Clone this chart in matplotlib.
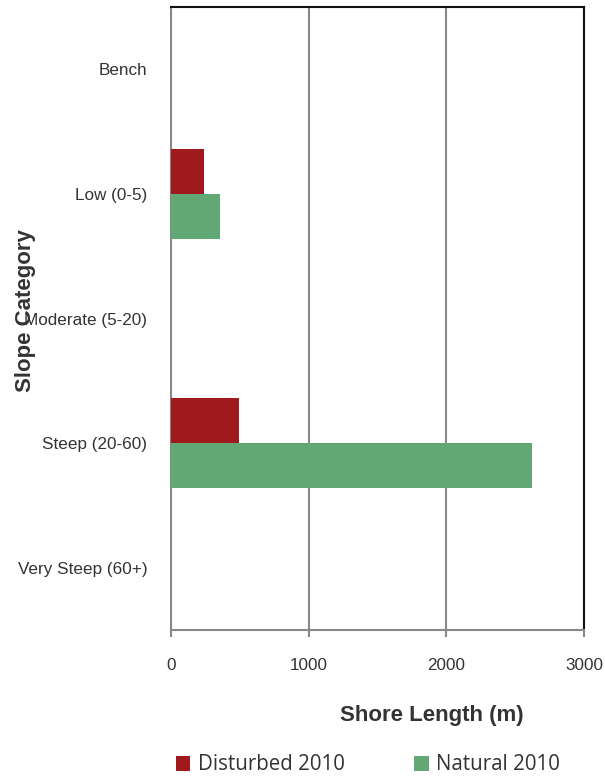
import matplotlib
matplotlib.use("Agg")
import matplotlib.pyplot as plt
import numpy as np
from matplotlib.patches import Patch

categories = ["Bench", "Low (0-5)", "Moderate (5-20)", "Steep (20-60)", "Very Steep (60+)"]
disturbed_2010 = [0, 237, 0, 493, 0]
natural_2010 = [0, 358, 0, 2623, 0]
x_ticks = [0, 1000, 2000, 3000]

red = "#A0191C"
green = "#62A874"

fig = plt.figure(figsize=(6.05, 7.76), dpi=100)
ax = fig.add_axes([171/605, 1-630/776, 413/605, 623/776])

y = np.arange(len(categories))
h = 0.36
ax.barh(y - h/2, disturbed_2010, height=h, color=red, linewidth=0, zorder=3, label="Disturbed 2010")
ax.barh(y + h/2, natural_2010, height=h, color=green, linewidth=0, zorder=3, label="Natural 2010")

ax.set_ylim(4.5, -0.5)
ax.set_xlim(0, 3000)
ax.set_xticks(x_ticks)
ax.set_yticks(y)

tick_font = ["Liberation Sans", "DejaVu Sans"]
ax.set_yticklabels(categories, family=tick_font, fontsize=12.3, color="#333333")
ax.set_xticklabels([str(v) for v in x_ticks], family=tick_font, fontsize=12.3, color="#333333")

ax.tick_params(axis="y", length=0, pad=17)
ax.tick_params(axis="x", length=5, width=1.5, color="#888888", pad=15, direction="out")

ax.xaxis.grid(True, color="#888888", linewidth=1.5, zorder=0)
ax.set_axisbelow(True)

for s in ["left", "bottom"]:
    ax.spines[s].set_color("#888888")
    ax.spines[s].set_linewidth(1.5)
for s in ["top", "right"]:
    ax.spines[s].set_color("#111111")
    ax.spines[s].set_linewidth(1.5)

ax.set_xlabel("Shore Length (m)", family=["Liberation Sans", "DejaVu Sans"], fontweight="bold", fontsize=16, color="#333333")
ax.xaxis.set_label_coords((432-171)/413, (630-705)/623)
ax.set_ylabel("Slope Category", family=["Liberation Sans", "DejaVu Sans"], fontweight="bold", fontsize=16, color="#333333")
ax.yaxis.set_label_coords((36-171)/413, (630-311)/623)

handles = [Patch(facecolor=red), Patch(facecolor=green)]
leg = fig.legend(handles, ["Disturbed 2010", "Natural 2010"], loc="center",
                 bbox_to_anchor=(368/605, 1-765/776), ncol=2, frameon=False,
                 handlelength=0.7, handleheight=0.7, handletextpad=0.35,
                 columnspacing=3.4, prop={"family": ["Open Sans", "DejaVu Sans"], "size": 14.8})
for t in leg.get_texts():
    t.set_color("#333333")

fig.savefig("out.png", dpi=100)
